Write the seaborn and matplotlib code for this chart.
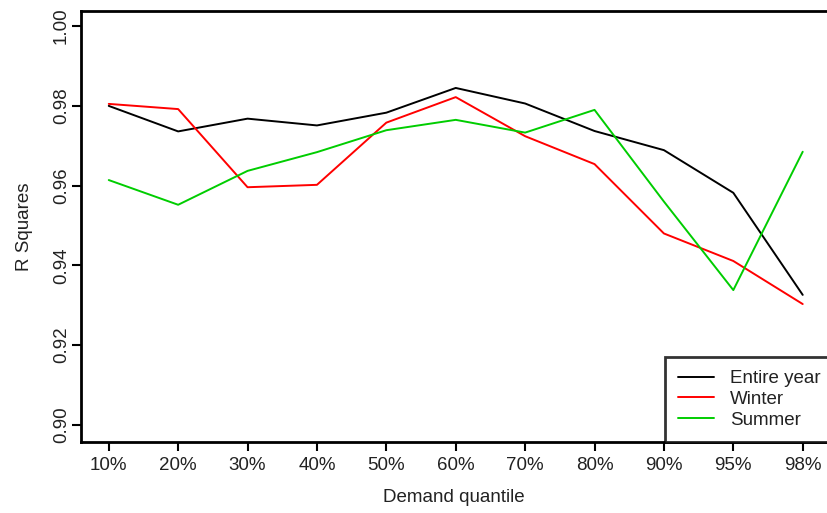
import numpy as np
import pandas as pd
import matplotlib
matplotlib.use("Agg")
import matplotlib.pyplot as plt
import seaborn as sns

quantiles = ["10%", "20%", "30%", "40%", "50%", "60%", "70%", "80%", "90%", "95%", "98%"]
entire_year = [0.9800, 0.9736, 0.9768, 0.9751, 0.9783, 0.9845, 0.9806, 0.9737, 0.9689, 0.9582, 0.9326]
winter = [0.9805, 0.9792, 0.9596, 0.9602, 0.9758, 0.9822, 0.9724, 0.9654, 0.9480, 0.9411, 0.9303]
summer = [0.9614, 0.9552, 0.9637, 0.9684, 0.9739, 0.9765, 0.9733, 0.9790, 0.9560, 0.9338, 0.9685]
series_names = ["Entire year", "Winter", "Summer"]
colors = ["#000000", "#FF0000", "#00CD00"]

df = pd.DataFrame({
    "pos": list(range(len(quantiles))) * 3,
    "r2": entire_year + winter + summer,
    "series": [n for n in series_names for _ in quantiles],
})

sns.set_style("white")
plt.rcParams["font.family"] = ["Liberation Sans", "DejaVu Sans"]
plt.rcParams["text.color"] = "#222222"

fig = plt.figure(figsize=(8.27, 5.13), dpi=100)
ax = fig.add_axes([81 / 827, 71 / 513, 1 - 81 / 827, 431 / 513])

sns.lineplot(data=df, x="pos", y="r2", hue="series", hue_order=series_names,
             palette=colors, linewidth=1.4, ax=ax, legend=False)

ax.set_xlim(-0.4, 10.35)
ax.set_ylim(0.8957, 1.0038)
ax.set_xticks(range(len(quantiles)))
ax.set_xticklabels(quantiles)
ax.set_yticks([0.90, 0.92, 0.94, 0.96, 0.98, 1.00])
ax.set_yticklabels(["0.90", "0.92", "0.94", "0.96", "0.98", "1.00"],
                   rotation=90, va="center")
ax.tick_params(axis="both", direction="out", length=6.5, width=1.5, color="black",
               labelsize=13.5, labelcolor="#222222", bottom=True, left=True)
ax.tick_params(axis="x", pad=4)
ax.tick_params(axis="y", pad=1.5)
for side in ["left", "bottom", "top"]:
    ax.spines[side].set_color("black")
    ax.spines[side].set_linewidth(2)
ax.spines["right"].set_visible(False)

ax.set_xlabel("Demand quantile", fontsize=13.5, labelpad=11, color="#222222")
ax.set_ylabel("R Squares", fontsize=13.5, labelpad=14, color="#222222")

handles = [plt.Line2D([], [], color=c, linewidth=1.4) for c in colors]
leg = fig.legend(handles, series_names, loc="lower left",
                 bbox_to_anchor=(665 / 827, 71 / 513, 0.25, 0.17), mode="expand",
                 fontsize=13.5, frameon=True, fancybox=False, borderpad=0.7,
                 labelspacing=0.2, handlelength=1.9, handletextpad=0.85,
                 borderaxespad=0)
leg.get_frame().set_edgecolor("black")
leg.get_frame().set_linewidth(2)
leg.get_frame().set_facecolor("white")

fig.savefig("out.png", dpi=100)
